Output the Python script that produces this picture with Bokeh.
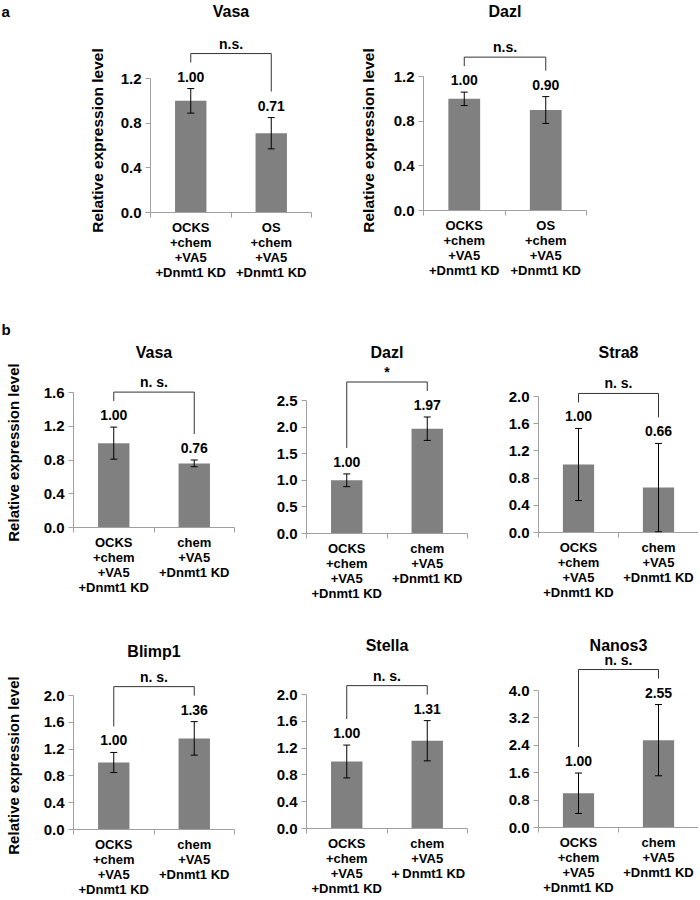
import math
from bokeh.plotting import figure
from bokeh.models import (Range1d, FixedTicker, NumeralTickFormatter, Whisker, TeeHead,
                          ColumnDataSource, Label, Spacer)
from bokeh.layouts import row, column
from bokeh.embed import file_html
from bokeh.resources import INLINE
from bokeh.core.properties import value

# ---------------- data ----------------
cats_a = ["OCKS\n+chem\n+VA5\n+Dnmt1 KD", "OS\n+chem\n+VA5\n+Dnmt1 KD"]
cats_b = ["OCKS\n+chem\n+VA5\n+Dnmt1 KD", "chem\n+VA5\n+Dnmt1 KD"]
cats_b_stella = ["OCKS\n+chem\n+VA5\n+Dnmt1 KD", "chem\n+VA5\n\uff0bDnmt1 KD"]

vasa_a_mean = [1.00, 0.71]
vasa_a_err = [0.11, 0.14]
dazl_a_mean = [1.00, 0.90]
dazl_a_err = [0.06, 0.12]

vasa_b_mean = [1.00, 0.76]
vasa_b_err = [0.19, 0.04]
dazl_b_mean = [1.00, 1.97]
dazl_b_err = [0.12, 0.22]
stra8_mean = [1.00, 0.66]
stra8_err = [0.53, 0.65]
blimp1_mean = [1.00, 1.36]
blimp1_err = [0.15, 0.25]
stella_mean = [1.00, 1.31]
stella_err = [0.245, 0.30]
nanos3_mean = [1.00, 2.55]
nanos3_err = [0.59, 1.04]

ticks_a = [0.0, 0.4, 0.8, 1.2]
ticks_16 = [0.0, 0.4, 0.8, 1.2, 1.6]
ticks_25 = [0.0, 0.5, 1.0, 1.5, 2.0, 2.5]
ticks_20 = [0.0, 0.4, 0.8, 1.2, 1.6, 2.0]
ticks_40 = [0.0, 0.8, 1.6, 2.4, 3.2, 4.0]

YLABEL = "Relative expression level"

# ---------------- style ----------------
FONT = "Liberation Sans"
AXIS_COL = "#a0a0a0"
BAR_COL = "#808080"


def make_chart(title, cats, means, errs, sig, ticks, geom, row_start, off, h):
    # geom (page px): width, left border, frame width, frame top, zero, top tick, title
    w, mbl, fw, top_p, zero_p, tick_p, title_p = geom
    base = row_start + off
    mbt, zero_px, tick_px, title_px = top_p - base, zero_p - base, tick_p - base, title_p - base
    ppu = (zero_px - tick_px) / ticks[-1]
    y_end = (zero_px - mbt) / ppu
    n = len(cats)
    xs = [i + 0.5 for i in range(n)]

    p = figure(width=w, height=h, x_range=Range1d(0, n), y_range=Range1d(0, y_end),
               output_backend="svg", toolbar_location=None,
               min_border_left=mbl, min_border_right=w - mbl - fw,
               min_border_top=mbt, min_border_bottom=h - zero_px)
    p.outline_line_color = None
    p.xgrid.visible = False
    p.ygrid.visible = False
    p.background_fill_color = "white"
    p.border_fill_color = "white"

    xa = p.xaxis[0]
    xa.ticker = FixedTicker(ticks=xs, minor_ticks=list(range(n + 1)))
    xa.major_label_overrides = {x: c for x, c in zip(xs, cats)}
    xa.major_tick_line_color = None
    xa.major_tick_out = 0
    xa.major_tick_in = 0
    xa.minor_tick_out = 5
    xa.minor_tick_in = 0
    xa.minor_tick_line_color = AXIS_COL
    xa.axis_line_color = AXIS_COL
    xa.major_label_text_font = FONT
    xa.major_label_text_font_style = "bold"
    xa.major_label_text_font_size = "13px"
    xa.major_label_text_color = "black"
    xa.major_label_text_line_height = 1.0
    xa.major_label_standoff = 2

    ya = p.yaxis[0]
    ya.ticker = FixedTicker(ticks=ticks)
    ya.formatter = NumeralTickFormatter(format="0.0")
    ya.bounds = (0, ticks[-1])
    ya.axis_line_color = AXIS_COL
    ya.major_tick_line_color = AXIS_COL
    ya.major_tick_in = 0
    ya.major_tick_out = 5
    ya.minor_tick_line_color = None
    ya.major_label_text_font = FONT
    ya.major_label_text_font_style = "bold"
    ya.major_label_text_font_size = "15px"
    ya.major_label_text_color = "black"
    ya.major_label_standoff = 4

    tops = [m + e for m, e in zip(means, errs)]
    p.vbar(x=xs, top=means, width=0.39, fill_color=BAR_COL, line_color=None)

    src = ColumnDataSource(dict(x=xs, upper=tops, lower=[m - e for m, e in zip(means, errs)]))
    wk = Whisker(source=src, base="x", upper="upper", lower="lower", dimension="height",
                 line_color="black", line_width=1, level="annotation",
                 upper_head=TeeHead(size=7, line_color="black", line_width=1),
                 lower_head=TeeHead(size=7, line_color="black", line_width=1))
    p.add_layout(wk)

    p.text(x=xs, y=tops, text=[f"{m:.2f}" for m in means], y_offset=-12,
           text_align="center", text_baseline="middle", text_font=value(FONT),
           text_font_style="bold", text_font_size="14px", text_color="black")

    legs = [t + 26 / ppu for t in tops]
    br = max(legs) + 9 / ppu
    p.line(x=[xs[0], xs[0], xs[-1], xs[-1]], y=[legs[0], br, br, legs[-1]],
           line_color="#333333", line_width=1)
    p.text(x=[sum(xs) / n], y=[br], text=[sig], y_offset=-2,
           text_align="center", text_baseline="bottom", text_font=value(FONT),
           text_font_style="bold", text_font_size="14px", text_color="black")

    p.add_layout(Label(x=n / 2, y=(zero_px - title_px) / ppu, text=title,
                       text_align="center", text_baseline="middle", text_font=FONT,
                       text_font_style="bold", text_font_size="16px", text_color="black"))
    # a small vertical offset keeps the layout from forcing equal frames across the row
    if off:
        return column(Spacer(width=w, height=off), p)
    return column(p)


def make_label_strip(w, h_row, row_start, ylabel_pos, ylabel_size, letter=None):
    # narrow axis-less figure carrying the y-axis title and the panel letter (page px)
    h = h_row - 4
    base = row_start + 1
    p = figure(width=w, height=h, x_range=Range1d(0, w), y_range=Range1d(0, h),
               x_axis_type=None, y_axis_type=None, output_backend="svg",
               toolbar_location=None, min_border_left=0, min_border_right=0,
               min_border_top=0, min_border_bottom=0)
    p.outline_line_color = None
    p.xgrid.visible = False
    p.ygrid.visible = False
    p.border_fill_color = "white"
    cx, cy = ylabel_pos
    p.text(x=[cx], y=[h - (cy - base)], text=[YLABEL], angle=math.pi / 2,
           text_align="center", text_baseline="middle", text_font=value(FONT),
           text_font_style="bold", text_font_size=ylabel_size, text_color="black")
    if letter is not None:
        t, lx, ly = letter
        p.text(x=[lx], y=[h - max(ly - base, 0)], text=[t], text_align="left",
               text_baseline="top", text_font=value(FONT), text_font_style="bold",
               text_font_size="15px", text_color="black")
    return column(Spacer(width=w, height=1), p)


# ---- row a: page y 0..283 ----
RA, HA = 0, 283
lab_a1 = make_label_strip(112, HA, RA, (97, 140), "15.5px", letter=("a", 1, 2))
a1 = make_chart("Vasa", cats_a, vasa_a_mean, vasa_a_err, "n.s.", ticks_a,
                (233, 38, 161, 0, 212, 78, 11), RA, 0, HA)
lab_a2 = make_label_strip(40, HA, RA, (23, 140), "15.5px")
a2 = make_chart("Dazl", cats_a, dazl_a_mean, dazl_a_err, "n.s.", ticks_a,
                (228, 38, 163, 2, 210, 76, 11), RA, 2, HA - 3)

# ---- row b (top): page y 283..604 ----
RB, HB = 283, 321
lab_b = make_label_strip(35, HB, RB, (13, 452), "15px", letter=("b", 1, 320))
b1 = make_chart("Vasa", cats_b, vasa_b_mean, vasa_b_err, "n. s.", ticks_16,
                (215, 38, 161, 335, 527, 392, 352), RB, 0, HB)
b2 = make_chart("Dazl", cats_b, dazl_b_mean, dazl_b_err, "*", ticks_25,
                (234, 56, 161, 335, 533, 400, 352), RB, 2, HB - 3)
b3 = make_chart("Stra8", cats_b, stra8_mean, stra8_err, "n. s.", ticks_20,
                (214, 54, 160, 335, 532, 396, 352), RB, 3, HB - 5)

# ---- row b (bottom): page y 604..899 ----
RC, HC = 604, 295
lab_c = make_label_strip(35, HC, RC, (13, 765), "15px")
c1 = make_chart("Blimp1", cats_b, blimp1_mean, blimp1_err, "n. s.", ticks_20,
                (215, 38, 161, 630, 829, 695, 651), RC, 0, HC)
c2 = make_chart("Stella", cats_b_stella, stella_mean, stella_err, "n. s.", ticks_20,
                (234, 56, 161, 630, 828, 694, 645), RC, 2, HC - 3)
c3 = make_chart("Nanos3", cats_b, nanos3_mean, nanos3_err, "n. s.", ticks_40,
                (214, 54, 160, 630, 827, 690, 645), RC, 3, HC - 5)

layout = column(row(lab_a1, a1, lab_a2, a2), row(lab_b, b1, b2, b3), row(lab_c, c1, c2, c3))

with open("out.html", "w") as f:
    f.write(file_html(layout, INLINE))
